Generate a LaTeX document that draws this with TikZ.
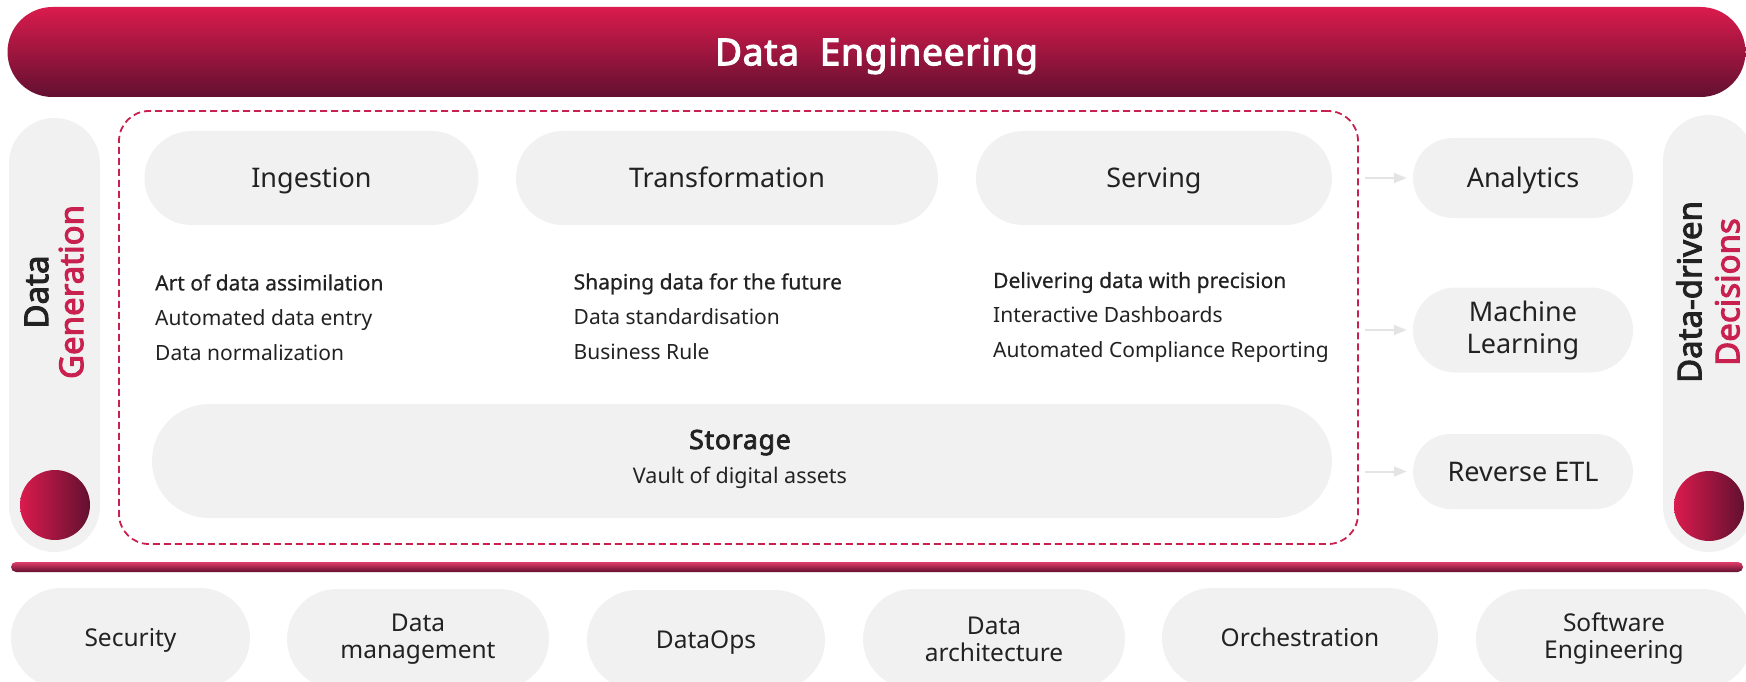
\documentclass[tikz,border=0pt]{standalone}
\usepackage{fontspec}
\setmainfont{Noto Sans}[BoldFont={Noto Sans},BoldFeatures={FakeBold=3}]
\usetikzlibrary{arrows.meta}
\definecolor{crimson}{HTML}{DA1B4D}
\definecolor{wine}{HTML}{621030}
\definecolor{pillgray}{HTML}{F1F1F1}
\definecolor{ink}{HTML}{222222}
\definecolor{rosered}{HTML}{C8214F}
\definecolor{arrowgray}{HTML}{E4E4E4}
\begin{document}
\begin{tikzpicture}[x=1pt,y=-1pt,
    pill/.style 2 args={fill=pillgray,text=ink,minimum width=#1,minimum height=#2,rounded corners={min(#1,#2)/2},inner sep=0pt,align=center},
    big/.style={font=\fontsize{27}{32}\selectfont},
    bigmid/.style={big,text height=26.3pt,text depth=7pt},
    small/.style={text=ink,anchor=west,align=left,inner sep=0pt,font=\fontsize{21}{35}\selectfont},
    foot/.style={font=\fontsize{24.5}{27}\selectfont},
    footmid/.style={foot,text height=23.5pt,text depth=6pt},
    side/.style={rotate=90,align=center,text=ink,inner sep=0pt,font=\bfseries\fontsize{33}{35}\selectfont},
    arr/.style={-{Triangle[length=13pt,width=10pt]},arrowgray,line width=2pt,shorten <=6pt,shorten >=6pt},
    dot/.style={circle,minimum size=70pt,inner sep=0pt,left color=crimson,right color=wine}]
\useasboundingbox (0,0) rectangle (1746,682);
\clip (0,0) rectangle (1746,682);

\node[top color=crimson,bottom color=wine,rounded corners=45,minimum width=1738,minimum height=90,text=white,text height=35.4pt,text depth=9pt,font=\bfseries\fontsize{37}{40}\selectfont\addfontfeature{LetterSpace=2}] (title) at (876.5,52) {Data\ \ Engineering};

\node[pill={91}{434}] (gen) at (54.5,335) {};
\node[pill={91}{437}] (dec) at (1708.5,333.5) {};
\node[side] (gentxt) at (54,292) {Data\\\textcolor{rosered}{Generation}};
\node[side,font=\bfseries\fontsize{33}{38}\selectfont] (dectxt) at (1708,292) {Data-driven\\\textcolor{rosered}{Decisions}};
\node[dot] (gdot) at (55,505) {};
\node[dot] (ddot) at (1709,506) {};

\node[draw=rosered,dash pattern=on 7pt off 4pt,line width=1.8pt,rounded corners=30,minimum width=1239,minimum height=433] (core) at (738.5,327.5) {};

\node[pill={334}{94},bigmid] (ing) at (311.5,178) {Ingestion};
\node[pill={422}{94},bigmid] (tra) at (727,178) {Transformation};
\node[pill={356}{94},bigmid] (ser) at (1154,178) {Serving};

\node[small] (ingtxt) at (155,317.5) {{\addfontfeature{FakeBold=0.6}Art of data assimilation}\\Automated data entry\\Data normalization};
\node[small] (tratxt) at (573.5,316.5) {{\addfontfeature{FakeBold=0.6}Shaping data for the future}\\Data standardisation\\Business Rule};
\node[small] (sertxt) at (993,317.5) {{\addfontfeature{FakeBold=0.6}Delivering data with precision}\\Interactive Dashboards\\Automated Compliance Reporting};

\node[pill={1180}{114}] (sto) at (742,461) {};
\node[text=ink,align=center,inner sep=0pt,font=\fontsize{21.5}{34}\selectfont] (stotxt) at (740,459) {{\bfseries\fontsize{26.5}{34}\selectfont\addfontfeature{LetterSpace=3}Storage}\\Vault of digital assets};

\node[pill={220}{80},bigmid] (ana) at (1523,178) {Analytics};
\node[pill={220}{85},big] (ml) at (1523,330) {Machine\\Learning};
\node[pill={220}{75},bigmid] (etl) at (1523,471.5) {Reverse ETL};
\draw[arr] (core.east |- ana) -- (ana);
\draw[arr] (core.east |- ml) -- (ml);
\draw[arr] (core.east |- etl) -- (etl);

\node[top color=crimson!85!white,bottom color=wine,rounded corners=5,minimum width=1732,minimum height=10,inner sep=0pt] (rule) at (877,567) {};

\node[pill={239}{100},footmid] (sec) at (130.5,638) {Security};
\node[pill={262}{100},foot] (dm) at (418,639) {Data\\management};
\node[pill={238}{100},footmid] (dops) at (706,640) {DataOps};
\node[pill={262}{100},foot] (darch) at (994,639) {Data\\architecture};
\node[pill={276}{100},footmid] (orch) at (1300,638) {Orchestration};
\node[pill={276}{100},foot] (swe) at (1614,639) {Software\\Engineering};

\end{tikzpicture}
\end{document}
